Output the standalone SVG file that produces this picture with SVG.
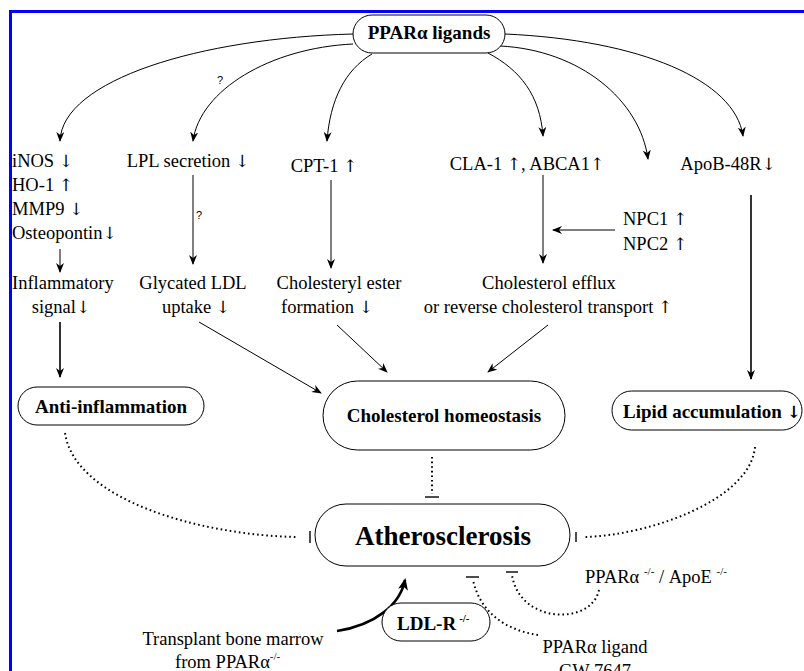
<svg xmlns="http://www.w3.org/2000/svg" width="804" height="671" viewBox="0 0 804 671">
<style>
  .t { font-family: "Liberation Serif", "Times New Roman", serif; font-size: 18.5px; fill: #000; }
  .b { font-family: "Liberation Serif", "Times New Roman", serif; font-size: 19px; font-weight: bold; fill: #000; }
  .ar { font-family: "DejaVu Serif", "DejaVu Sans", serif; font-weight: normal; font-size: 17px; }
  .q { font-family: "Liberation Sans", Arial, sans-serif; font-size: 11px; fill: #000; }
  .sup { font-size: 11px; }
  .box { fill: #fff; stroke: #000; stroke-width: 1; }
  .ln { fill: none; stroke: #000; stroke-width: 1; }
  .lnb { fill: none; stroke: #000; stroke-width: 1.6; }
  .dot { fill: none; stroke: #000; stroke-width: 2; stroke-dasharray: 1.6 3; }
  .bar { fill: none; stroke: #000; stroke-width: 1.4; }
</style>
<defs>
  <marker id="ah" viewBox="0 0 10 8" refX="9" refY="4" markerWidth="10" markerHeight="8" markerUnits="userSpaceOnUse" orient="auto">
    <path d="M0,0 L10,4 L0,8 L3,4 z" fill="#000"/>
  </marker>
  <marker id="ahb" viewBox="0 0 12 10" refX="10" refY="5" markerWidth="12" markerHeight="10" markerUnits="userSpaceOnUse" orient="auto">
    <path d="M0,0 L12,5 L0,10 L3,5 z" fill="#000"/>
  </marker>
</defs>

<!-- frame -->
<path d="M10.5,671 L10.5,11.5 L804,11.5" fill="none" stroke="#0000ff" stroke-width="3"/>

<g id="connectors">
  <!-- from PPARa ligands -->
  <path class="ln" d="M353,34 C 200,38 62,80 60,141" marker-end="url(#ah)"/>
  <path class="ln" d="M353,44 C 270,48 200,90 193,141" marker-end="url(#ah)"/>
  <path class="ln" d="M372,54 C 345,70 330,100 327,141" marker-end="url(#ah)"/>
  <path class="ln" d="M488,53 C 520,70 540,95 543,136" marker-end="url(#ah)"/>
  <path class="ln" d="M500,46 C 580,50 640,100 648,159" marker-end="url(#ah)"/>
  <path class="ln" d="M505,34 C 640,40 735,80 743,136" marker-end="url(#ah)"/>
  <!-- left column -->
  <path class="ln" d="M60,249 L60,272" marker-end="url(#ah)"/>
  <path class="lnb" d="M60,322 L60,377" marker-end="url(#ah)"/>
  <!-- LPL -->
  <path class="ln" d="M193,175 L193,264" marker-end="url(#ah)"/>
  <!-- CPT-1 -->
  <path class="ln" stroke="#444" d="M331,180 L331,268" marker-end="url(#ah)"/>
  <!-- CLA-1 -->
  <path class="ln" d="M543,175 L543,263" marker-end="url(#ah)"/>
  <!-- NPC -->
  <path class="ln" d="M615,230 L553,230" marker-end="url(#ah)"/>
  <!-- ApoB -->
  <path class="lnb" d="M751,195 L751,379" marker-end="url(#ah)"/>
  <!-- to cholesterol homeostasis -->
  <path class="ln" d="M199,322 L321,393" marker-end="url(#ah)"/>
  <path class="ln" d="M337,325 L387,372" marker-end="url(#ah)"/>
  <path class="ln" d="M548,325 L488,372" marker-end="url(#ah)"/>
  <!-- dotted inhibitions -->
  <path class="dot" d="M432,457 L432,494"/>
  <path class="bar" d="M425,497 L439,497"/>
  <path class="dot" d="M65,433 C 75,500 200,535 296,537"/>
  <path class="bar" d="M310,531 L310,543"/>
  <path class="dot" d="M755,447 C 750,500 650,535 585,537"/>
  <path class="bar" d="M576,532 L576,542"/>
  <path class="dot" d="M538,635 C 505,630 480,612 473,580"/>
  <path class="bar" d="M466,577 L479,577"/>
  <path class="dot" d="M599,590 C 592,625 520,625 512,575"/>
  <path class="bar" d="M506,572 L518,572"/>
  <!-- transplant -->
  <path fill="none" stroke="#000" stroke-width="2.6" d="M337,631 C 375,625 400,605 405,580" marker-end="url(#ahb)"/>
</g>

<g id="ppar">
  <rect class="box" x="353" y="15" width="152" height="38" rx="19"/>
  <text class="b" x="429" y="39" text-anchor="middle">PPARα ligands</text>
</g>
<text class="q" x="220" y="84" text-anchor="middle">?</text>

<g id="inflam-markers">
  <text class="t" x="12" y="167">iNOS <tspan class="ar">↓</tspan></text>
  <text class="t" x="12" y="191">HO-1 <tspan class="ar">↑</tspan></text>
  <text class="t" x="12" y="215">MMP9 <tspan class="ar">↓</tspan></text>
  <text class="t" x="12" y="239">Osteopontin<tspan class="ar">↓</tspan></text>
</g>
<g id="inflam-signal">
  <text class="t" x="12" y="289">Inflammatory</text>
  <text class="t" x="61" y="313" text-anchor="middle">signal<tspan class="ar">↓</tspan></text>
</g>
<g id="lpl">
  <text class="t" x="188" y="167" text-anchor="middle">LPL secretion <tspan class="ar">↓</tspan></text>
</g>
<text class="q" x="199" y="219" text-anchor="middle">?</text>
<g id="glycated">
  <text class="t" x="193" y="289" text-anchor="middle">Glycated LDL</text>
  <text class="t" x="196" y="313" text-anchor="middle">uptake  <tspan class="ar">↓</tspan></text>
</g>
<g id="cpt1">
  <text class="t" x="324" y="172" text-anchor="middle">CPT-1 <tspan class="ar">↑</tspan></text>
</g>
<g id="cholesteryl">
  <text class="t" x="339" y="289" text-anchor="middle">Cholesteryl ester</text>
  <text class="t" x="327" y="313" text-anchor="middle">formation <tspan class="ar">↓</tspan></text>
</g>
<g id="cla1">
  <text class="t" x="527" y="170" text-anchor="middle">CLA-1 <tspan class="ar">↑</tspan>, ABCA1<tspan class="ar">↑</tspan></text>
</g>
<g id="npc">
  <text class="t" x="623" y="225">NPC1 <tspan class="ar">↑</tspan></text>
  <text class="t" x="623" y="250">NPC2 <tspan class="ar">↑</tspan></text>
</g>
<g id="apob">
  <text class="t" x="728" y="170" text-anchor="middle">ApoB-48R<tspan class="ar">↓</tspan></text>
</g>
<g id="efflux">
  <text class="t" x="549" y="289" text-anchor="middle">Cholesterol efflux</text>
  <text class="t" x="548" y="313" text-anchor="middle">or reverse cholesterol transport <tspan class="ar">↑</tspan></text>
</g>

<g id="anti-inflammation">
  <rect class="box" x="18" y="387" width="186" height="38" rx="19"/>
  <text class="b" x="111" y="413" text-anchor="middle">Anti-inflammation</text>
</g>
<g id="homeostasis">
  <rect class="box" x="323" y="381" width="242" height="69" rx="34.5"/>
  <text class="b" x="444" y="422" text-anchor="middle">Cholesterol homeostasis</text>
</g>
<g id="lipid">
  <rect class="box" x="612" y="391" width="190" height="39" rx="19.5"/>
  <text class="b" x="712" y="418" text-anchor="middle">Lipid accumulation <tspan class="ar" style="font-weight:bold">↓</tspan></text>
</g>
<g id="atherosclerosis">
  <rect class="box" x="315" y="504" width="255" height="62" rx="31"/>
  <text class="b" x="443" y="545" text-anchor="middle" style="font-size:27px">Atherosclerosis</text>
</g>
<g id="ldlr">
  <rect class="box" x="382" y="603" width="108" height="38" rx="19"/>
  <text class="b" x="397" y="630">LDL-R<tspan class="sup" dx="3" dy="-8">-/-</tspan></text>
</g>
<g id="transplant">
  <text class="t" x="233" y="645" text-anchor="middle">Transplant bone marrow</text>
  <text class="t" x="175" y="668">from PPARα<tspan class="sup" dy="-8">-/-</tspan></text>
</g>
<g id="ppar-apoe">
  <text class="t" x="585" y="583">PPARα <tspan class="sup" dy="-8">-/-</tspan><tspan dy="8"> / ApoE </tspan><tspan class="sup" dy="-8">-/-</tspan></text>
</g>
<g id="gw7647">
  <text class="t" x="595" y="653" text-anchor="middle">PPARα ligand</text>
  <text class="t" x="595" y="677" text-anchor="middle">GW 7647</text>
</g>
</svg>
